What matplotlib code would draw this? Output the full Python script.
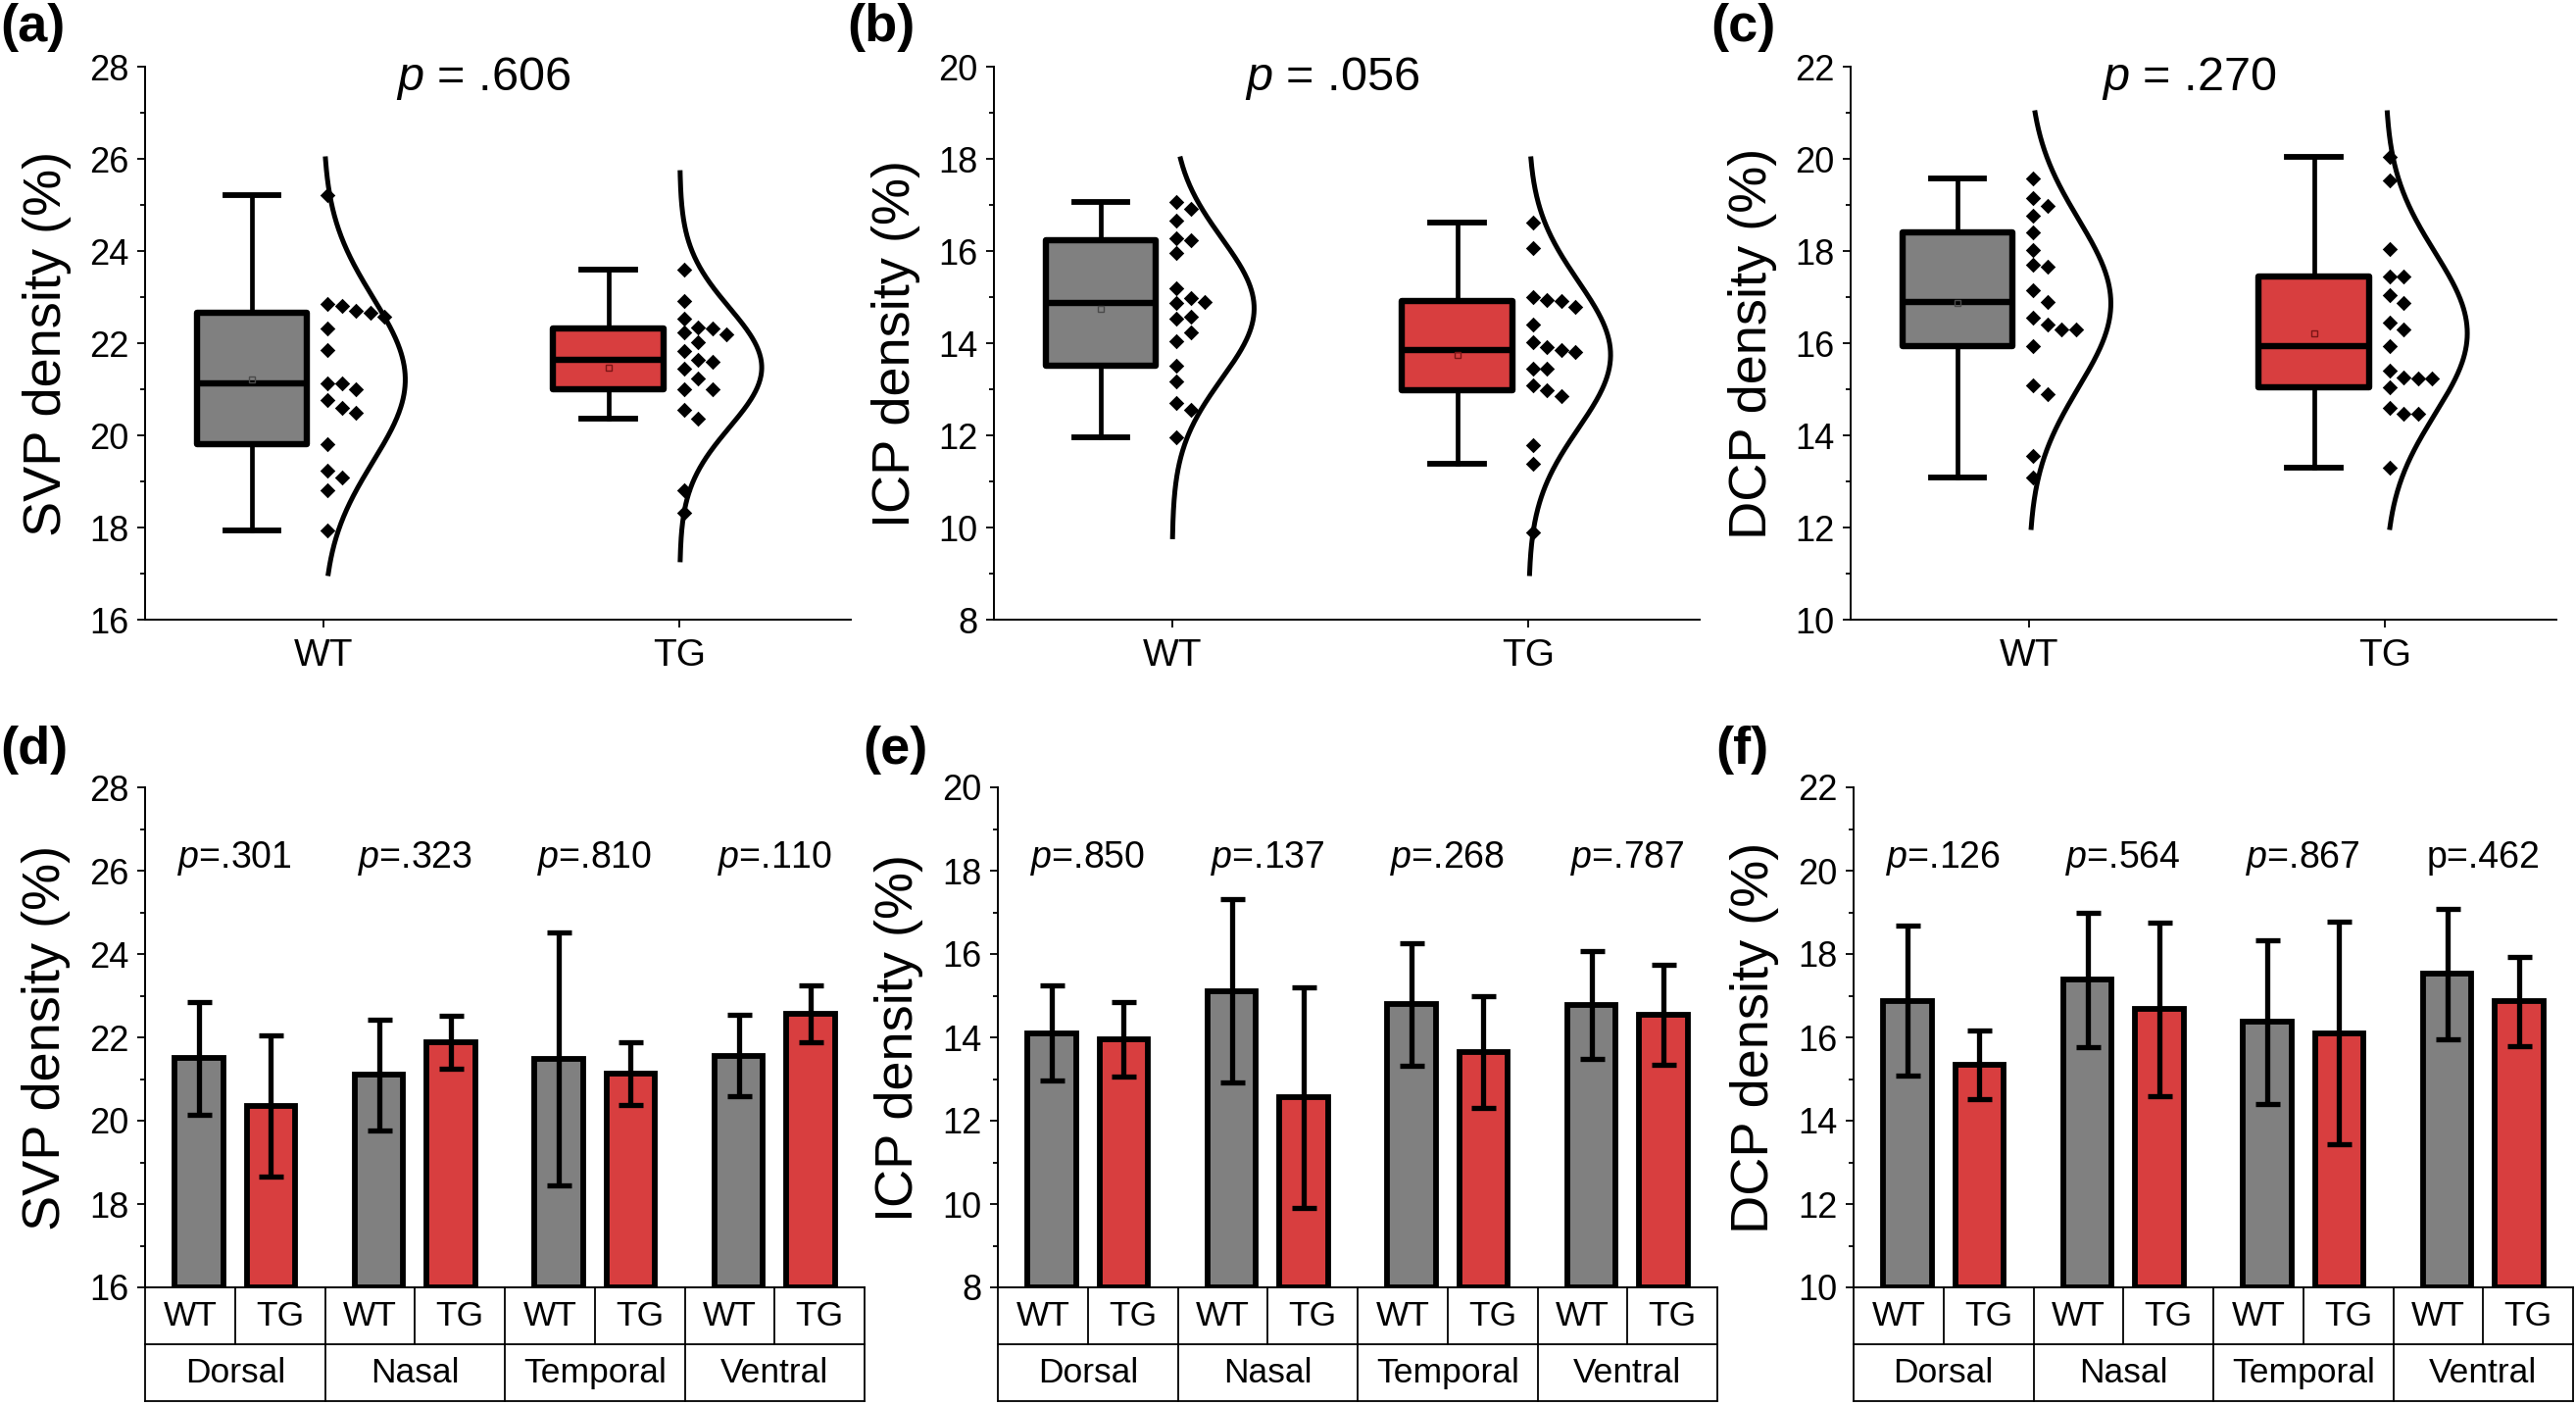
import numpy as np
import matplotlib
matplotlib.use('Agg')
import matplotlib.pyplot as plt

plt.rcParams['font.family'] = ['Liberation Sans', 'DejaVu Sans']
plt.rcParams['mathtext.fontset'] = 'custom'
plt.rcParams['mathtext.rm'] = 'Liberation Sans'
plt.rcParams['mathtext.it'] = 'Liberation Sans:italic'

GRAY = '#808080'
RED = '#d83e3f'

groups = ['WT', 'TG']

# ---- top row: per-eye values ----
svp_wt = [25.21, 22.85, 22.81, 22.70, 22.66, 22.57, 22.32, 21.85, 21.13, 21.13,
          21.00, 20.77, 20.60, 20.49, 19.81, 19.23, 19.09, 18.81, 17.94]
svp_tg = [23.60, 22.91, 22.53, 22.34, 22.32, 22.23, 22.19, 22.02, 21.83, 21.64,
          21.60, 21.45, 21.23, 21.00, 21.00, 20.55, 20.37, 18.81, 18.32]
icp_wt = [17.06, 16.91, 16.66, 16.28, 16.24, 15.96, 15.19, 14.98, 14.89, 14.87,
          14.57, 14.53, 14.23, 14.04, 13.51, 13.17, 12.70, 12.55, 11.96]
icp_tg = [16.62, 16.06, 15.00, 14.94, 14.92, 14.79, 14.40, 14.02, 13.91, 13.85,
          13.80, 13.45, 13.45, 13.08, 12.97, 12.85, 11.79, 11.38, 9.89]
dcp_wt = [19.57, 19.14, 18.98, 18.76, 18.40, 18.02, 17.71, 17.66, 17.15, 16.90,
          16.56, 16.41, 16.29, 16.29, 15.94, 15.09, 14.89, 13.55, 13.08]
dcp_tg = [20.04, 19.53, 18.04, 17.44, 17.44, 17.05, 16.88, 16.45, 16.30, 15.94,
          15.41, 15.26, 15.23, 15.23, 15.04, 14.59, 14.46, 14.46, 13.30]

top_data = [(svp_wt, svp_tg), (icp_wt, icp_tg), (dcp_wt, dcp_tg)]
top_p = ['.606', '.056', '.270']
ylabels = ['SVP density (%)', 'ICP density (%)', 'DCP density (%)']
ylims = [(16, 28), (8, 20), (10, 22)]
# extent of the fitted normal curves (WT, TG)
curve_ranges = [[(17.0, 26.0), (17.3, 25.7)],
                [(9.8, 18.0), (9.0, 18.0)],
                [(12.0, 21.0), (12.0, 21.0)]]

# ---- bottom row: quadrant mean +/- SD ----
regions = ['Dorsal', 'Nasal', 'Temporal', 'Ventral']
svp_wt_mean = [21.50, 21.10, 21.48, 21.56]
svp_wt_sd = [1.35, 1.33, 3.03, 0.97]
svp_tg_mean = [20.36, 21.88, 21.13, 22.57]
svp_tg_sd = [1.69, 0.63, 0.76, 0.68]
icp_wt_mean = [14.10, 15.11, 14.79, 14.78]
icp_wt_sd = [1.14, 2.20, 1.48, 1.29]
icp_tg_mean = [13.96, 12.56, 13.65, 14.55]
icp_tg_sd = [0.89, 2.65, 1.34, 1.20]
dcp_wt_mean = [16.88, 17.38, 16.37, 17.52]
dcp_wt_sd = [1.80, 1.62, 1.97, 1.57]
dcp_tg_mean = [15.34, 16.68, 16.10, 16.86]
dcp_tg_sd = [0.83, 2.08, 2.67, 1.08]

bottom_data = [((svp_wt_mean, svp_wt_sd), (svp_tg_mean, svp_tg_sd)),
               ((icp_wt_mean, icp_wt_sd), (icp_tg_mean, icp_tg_sd)),
               ((dcp_wt_mean, dcp_wt_sd), (dcp_tg_mean, dcp_tg_sd))]
bottom_p = [[r'$p$=.301', r'$p$=.323', r'$p$=.810', r'$p$=.110'],
            [r'$p$=.850', r'$p$=.137', r'$p$=.268', r'$p$=.787'],
            [r'$p$=.126', r'$p$=.564', r'$p$=.867', 'p=.462']]


def box_stats(vals):
    v = np.asarray(vals)
    q1, med, q3 = np.percentile(v, [25, 50, 75], method='weibull')
    iqr = q3 - q1
    lo = v[v >= q1 - 1.5 * iqr].min()
    hi = v[v <= q3 + 1.5 * iqr].max()
    return dict(med=med, q1=q1, q3=q3, whislo=lo, whishi=hi, mean=v.mean(), fliers=[])


def swarm(vals, thr=0.3):
    # greedy one-sided swarm: put each point in the first free column
    vals = sorted(vals, reverse=True)
    cols, placed = [], []
    for v in vals:
        k = 0
        while k < len(placed) and any(abs(v - u) < thr for u in placed[k]):
            k += 1
        if k == len(placed):
            placed.append([])
        placed[k].append(v)
        cols.append(k)
    return np.array(vals), 0.012 + 0.04 * np.array(cols)


def style_y(ax, ylim, label):
    ax.set_ylim(*ylim)
    ax.set_yticks(np.arange(ylim[0], ylim[1] + 0.1, 2))
    ax.set_yticks(np.arange(ylim[0], ylim[1] + 0.1, 1), minor=True)
    ax.tick_params(axis='y', which='major', length=6, width=1.3, labelsize=26, pad=6)
    ax.tick_params(axis='y', which='minor', length=3.5, width=1.3)
    for s in ['top', 'right']:
        ax.spines[s].set_visible(False)
    for s in ['left', 'bottom']:
        ax.spines[s].set_linewidth(1.4)
    ax.set_ylabel(label, fontsize=39)
    ax.yaxis.set_label_coords(-0.104, 0.5)


fig = plt.figure(figsize=(26.28, 14.34), dpi=100)

top_left = [148, 1014, 1888]
bot_left = [148, 1018, 1891]
letters_top = [('(a)', 0.0), ('(b)', 0.329), ('(c)', 0.664)]
letters_bot = [('(d)', 0.0), ('(e)', 0.335), ('(f)', 0.666)]
colors = [GRAY, RED]
mean_edge = ['#4a4a4a', '#7a1515']

for i in range(3):
    ax = fig.add_axes([top_left[i] / 2628, 1 - 632 / 1434, 720 / 2628, 564 / 1434])
    stats = [box_stats(d) for d in top_data[i]]
    res = ax.bxp(stats, positions=[0.8, 1.8], widths=0.31, patch_artist=True,
                 showmeans=True, showfliers=False, manage_ticks=False, capwidths=0.15,
                 boxprops=dict(linewidth=4.6, edgecolor='black'),
                 medianprops=dict(color='black', linewidth=4.6),
                 whiskerprops=dict(color='black', linewidth=3.4),
                 capprops=dict(color='black', linewidth=4.2),
                 meanprops=dict(marker='s', markerfacecolor='none', markersize=5,
                                markeredgewidth=1.0))
    for j, (patch, mk) in enumerate(zip(res['boxes'], res['means'])):
        patch.set_facecolor(colors[j])
        patch.set_joinstyle('round')
        mk.set_markeredgecolor(mean_edge[j])
    for j, d in enumerate(top_data[i]):
        yv, xo = swarm(d)
        ax.scatter(j + 1 + xo, yv, marker='D', s=62, color='black', zorder=4, linewidths=0)
        mu, sd = np.mean(d), np.std(d, ddof=1)
        yy = np.linspace(curve_ranges[i][j][0], curve_ranges[i][j][1], 300)
        xx = j + 1 + 0.23 * np.exp(-(yy - mu) ** 2 / (2 * sd ** 2))
        ax.plot(xx, yy, color='black', lw=3.6, zorder=3)
    ax.set_xlim(0.5, 2.48)
    ax.set_xticks([1, 2])
    ax.set_xticklabels(groups, fontsize=28)
    ax.tick_params(axis='x', length=6, width=1.3, pad=8)
    style_y(ax, ylims[i], ylabels[i])
    ax.text(0.48, 0.957, r'$p$ = ' + top_p[i], transform=ax.transAxes,
            ha='center', va='baseline', fontsize=35)
    fig.text(letters_top[i][1], 0.998, letters_top[i][0], fontsize=39,
             fontweight='bold', ha='left', va='top')

for i in range(3):
    ax = fig.add_axes([bot_left[i] / 2628, 1 - 1313 / 1434, 734 / 2628, 510 / 1434])
    x = np.arange(len(regions))
    for j, (m, sd) in enumerate(bottom_data[i]):
        xp = x + (-0.2 if j == 0 else 0.2)
        ax.bar(xp, np.array(m) - ylims[i][0], width=0.27, bottom=ylims[i][0],
               color=colors[j], edgecolor='black', linewidth=4.2, zorder=2)
        ax.errorbar(xp, m, yerr=sd, fmt='none', ecolor='black', elinewidth=3.8,
                    capsize=9, capthick=3.8, zorder=3)
    ax.set_xlim(-0.5, 3.5)
    ax.set_xticks([])
    style_y(ax, ylims[i], ylabels[i])
    for k in range(4):
        ax.text(k, 0.839, bottom_p[i][k], transform=ax.get_xaxis_transform(),
                ha='center', va='baseline', fontsize=27)
    # category table under the bars
    tr = ax.get_xaxis_transform()
    kw = dict(color='black', lw=1.3, transform=tr, clip_on=False)
    y1, y2 = -0.114, -0.228
    ax.plot([-0.5, 3.5], [y1, y1], **kw)
    ax.plot([-0.5, 3.5], [y2, y2], **kw)
    for xv in np.arange(-0.5, 3.51, 0.5):
        ax.plot([xv, xv], [0, y1], **kw)
    for xv in np.arange(-0.5, 3.51, 1.0):
        ax.plot([xv, xv], [y1, y2], **kw)
    for k, reg in enumerate(regions):
        ax.text(k - 0.25, y1 / 2, 'WT', transform=tr, ha='center', va='center', fontsize=25.5)
        ax.text(k + 0.25, y1 / 2, 'TG', transform=tr, ha='center', va='center', fontsize=25.5)
        ax.text(k, (y1 + y2) / 2, reg, transform=tr, ha='center', va='center', fontsize=25.5)
    fig.text(letters_bot[i][1], 1 - 740 / 1434, letters_bot[i][0], fontsize=39,
             fontweight='bold', ha='left', va='top')

fig.savefig('out.png', dpi=100)
